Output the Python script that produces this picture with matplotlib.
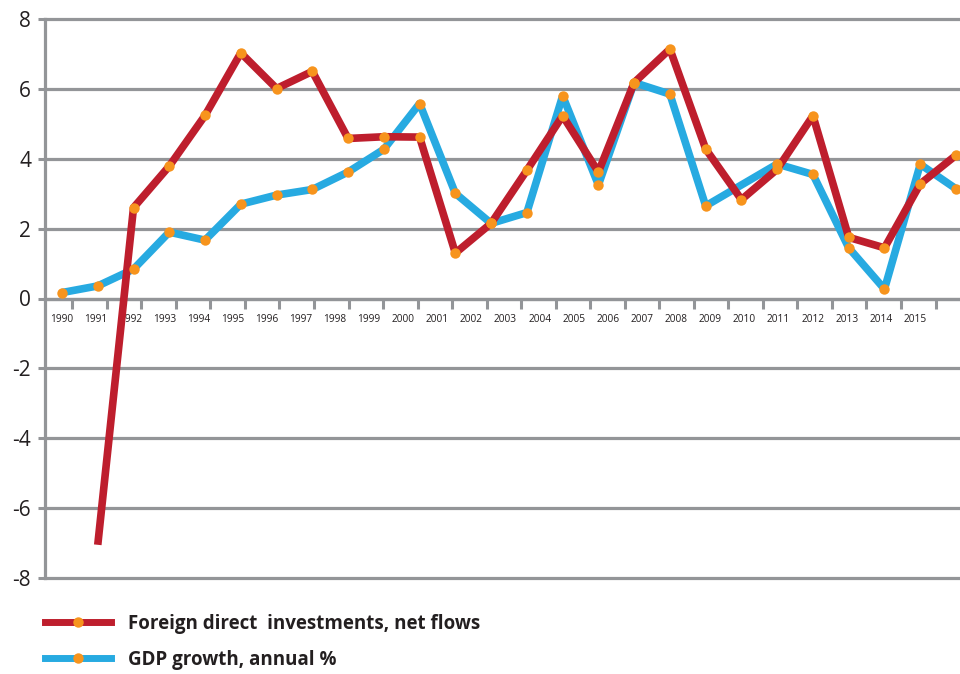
import matplotlib
matplotlib.use("Agg")
import matplotlib.pyplot as plt
import numpy as np
from matplotlib.lines import Line2D

plt.rcParams['font.family'] = ['Open Sans', 'DejaVu Sans']

years_gdp = list(range(1990, 2016))
gdp_growth = [0.17, 0.36, 0.84, 1.90, 1.67, 2.70, 2.96, 3.12, 3.62, 4.27, 5.58,
              3.01, 2.15, 2.46, 5.80, 3.25, 6.18, 5.85, 2.65, 3.25, 3.85, 3.55,
              1.45, 0.27, 3.84, 3.14]

years_fdi = list(range(1991, 2016))
fdi_flows = [-7.05, 2.60, 3.79, 5.24, 7.03, 6.01, 6.50, 4.58, 4.63, 4.62,
             1.30, 2.15, 3.67, 5.23, 3.62, 6.18, 7.14, 4.28, 2.83, 3.70, 5.23,
             1.75, 1.45, 3.28, 4.10]

year_labels = [str(y) for y in range(1990, 2016)]
y_ticks = [-8, -6, -4, -2, 0, 2, 4, 6, 8]

RED = '#BE1E2D'
BLUE = '#27AAE1'
ORANGE = '#F7941D'
GRID = '#939598'
TEXT = '#231F20'

W, H = 960, 674
fig = plt.figure(figsize=(W / 100, H / 100), dpi=100)
ax_left, ax_right, ax_top, ax_bottom = 45, 960, 19, 578
ax = fig.add_axes([ax_left / W, (H - ax_bottom) / H,
                   (ax_right - ax_left) / W, (ax_bottom - ax_top) / H])

# x scale: 1990 at px 62, 2015 at px 956
px_per_year = (956 - 62) / 25
x0 = 1990 - (62 - ax_left) / px_per_year
x1 = 2015 + (ax_right - 956) / px_per_year
ax.set_xlim(x0, x1)
ax.set_ylim(-8, 8)

# lines
ax.plot(years_gdp, gdp_growth, color=BLUE, lw=5.5, solid_joinstyle='round',
        solid_capstyle='butt', zorder=3)
ax.plot(years_fdi, fdi_flows, color=RED, lw=5.5, solid_joinstyle='round',
        solid_capstyle='butt', zorder=4)
# markers (the original shows no marker on the GDP point of 2009)
gdp_marks = [i for i, y in enumerate(years_gdp) if y != 2009]
ax.plot(years_gdp, gdp_growth, ls='none', marker='o', ms=7.5, mfc=ORANGE,
        mec='none', markevery=gdp_marks, zorder=5)
ax.plot(years_fdi, fdi_flows, ls='none', marker='o', ms=7.5, mfc=ORANGE,
        mec='none', markevery=slice(1, None), zorder=5)

# grid
ax.set_yticks(y_ticks)
ax.set_yticklabels([str(v) for v in y_ticks], fontsize=15, color=TEXT)
ax.yaxis.grid(True, color=GRID, lw=2.3)
for gl in ax.get_ygridlines():
    gl.set_clip_on(False)
ax.set_axisbelow(True)
ax.tick_params(axis='y', length=5, width=2.2, color=GRID, pad=5)

for s in ['top', 'right']:
    ax.spines[s].set_visible(False)
ax.spines['left'].set_color(GRID)
ax.spines['left'].set_linewidth(2.3)
ax.spines['bottom'].set_position(('data', 0))
ax.spines['bottom'].set_color(GRID)
ax.spines['bottom'].set_linewidth(2.3)

# x tick marks and labels (label grid slightly narrower than point grid, as in original)
tick_px = 72.3 + 34.53 * np.arange(26)
label_px = 62 + 34.12 * np.arange(26)
ax.set_xticks(x0 + (tick_px - ax_left) / px_per_year)
ax.set_xticklabels([])
ax.tick_params(axis='x', which='major', length=7.5, width=2.2, color=GRID, direction='out')
ax.set_xticks(x0 + (label_px - ax_left) / px_per_year, minor=True)
ax.set_xticklabels(year_labels, minor=True, fontsize=7.3, color=TEXT)
ax.tick_params(axis='x', which='minor', length=0, pad=11)

# legend
h1 = Line2D([], [], color=RED, lw=5, marker='o', ms=7.5, mfc=ORANGE, mec='none')
h2 = Line2D([], [], color=BLUE, lw=5, marker='o', ms=7.5, mfc=ORANGE, mec='none')
leg = fig.legend([h1, h2], ['Foreign direct  investments, net flows', 'GDP growth, annual %'],
                 loc='upper left', bbox_to_anchor=(45 / W, 1 - 614 / H),
                 frameon=False, numpoints=1, handlelength=3.5, handletextpad=0.95,
                 labelspacing=0.85, borderpad=0, borderaxespad=0,
                 prop={'size': 13.5, 'weight': 'bold'})
for t in leg.get_texts():
    t.set_color(TEXT)

fig.savefig('out.png', dpi=100)
